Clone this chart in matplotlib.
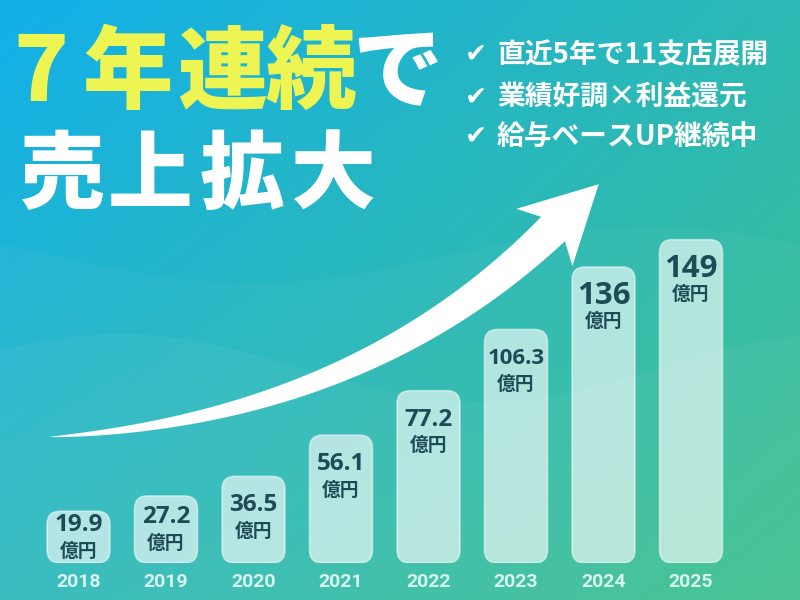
import numpy as np
import matplotlib.pyplot as plt
from matplotlib.patches import FancyBboxPatch, Polygon
from matplotlib.colors import to_rgb

# data
years = ["2018", "2019", "2020", "2021", "2022", "2023", "2024", "2025"]
sales = [19.9, 27.2, 36.5, 56.1, 77.2, 106.3, 136, 149]
sales_labels = ["19.9", "27.2", "36.5", "56.1", "77.2", "106.3", "136", "149"]
unit = "億円"
headline_1 = ["7", "年", "連", "続", "で"]
headline_2 = ["売", "上", "拡", "大"]
points = ["直近5年で11支店展開", "業績好調×利益還元", "給与ベースUP継続中"]

JP = "Noto Sans CJK JP"
W, H = 800, 600
YELLOW = "#eef552"
DARK = "#1f4b57"

fig = plt.figure(figsize=(8, 6), dpi=100)
bg = fig.add_axes([0, 0, 1, 1])
bg.axis("off")

# background gradient (blue top-left -> green bottom-right)
tl, tr, bl, br = [np.array(to_rgb(c)) for c in ("#12b0ea", "#2db9b4", "#2db9bc", "#3dc08b")]
u = np.linspace(0, 1, 400)[None, :, None]
v = np.linspace(0, 1, 300)[:, None, None]
img = (1 - u) * (1 - v) * tl + u * (1 - v) * tr + (1 - u) * v * bl + u * v * br
bg.imshow(img, extent=[0, W, H, 0], aspect="auto", zorder=0)

# soft waves
xx = np.linspace(0, W, 300)
wave_low = 368 - 34 * np.cos(2 * np.pi * (xx - 120) / 720)
wave_up = 255 + 28 * np.cos(2 * np.pi * (xx - 250) / 800)
bg.fill_between(xx, wave_low, H, color="white", alpha=0.07, lw=0, zorder=1)
bg.fill_between(xx, wave_up, wave_low, color="white", alpha=0.03, lw=0, zorder=1)

# big curved arrow
P0 = np.array([50.0, 437.0]); P1 = np.array([360.0, 418.0]); P2 = np.array([553.0, 229.0])
t = np.linspace(0, 1, 200)[:, None]
c = (1 - t) ** 2 * P0 + 2 * (1 - t) * t * P1 + t ** 2 * P2
d = 2 * (1 - t) * (P1 - P0) + 2 * t * (P2 - P1)
d = d / np.linalg.norm(d, axis=1, keepdims=True)
n = np.column_stack([d[:, 1], -d[:, 0]])
half = 17 * t[:, 0] ** 0.75
top = c + n * half[:, None]
bot = c - n * half[:, None]
de, ne = d[-1], n[-1]
tip = P2 + 64 * de
wing_a = P2 - 12 * de + 40 * ne
wing_b = P2 - 12 * de - 40 * ne
arrow = np.vstack([top, wing_a, tip, wing_b, bot[::-1]])
bg.add_patch(Polygon(arrow, closed=True, fc="white", ec="none", zorder=3))

# headline
for ch, x in zip(headline_1, [41, 127, 222, 311, 397]):
    bg.text(x, 74, ch, color="white" if ch == "で" else YELLOW, fontsize=65,
            fontweight="heavy", family=JP, ha="center", va="center", zorder=4)
for ch, x in zip(headline_2, [62, 150, 242, 333]):
    bg.text(x, 177, ch, color="white", fontsize=61, fontweight="heavy",
            family=JP, ha="center", va="center", zorder=4)

# check list
for i, p in enumerate(points):
    y = [55, 98, 137][i]
    bg.text(476, y + 1, "✔", color="white", fontsize=19, family=["DejaVu Sans"],
            ha="center", va="center", zorder=4)
    bg.text(497, y, p, color="white", fontsize=20, fontweight="bold", family=JP,
            ha="left", va="center", zorder=4)

bg.set_xlim(0, W)
bg.set_ylim(H, 0)

# bars
BASE = -4.7
ax = fig.add_axes([34.75 / W, (H - 563) / H, 700 / W, 363 / H])
ax.set_xlim(-0.5, 7.5)
ax.set_ylim(BASE, BASE + 363 / 2.104)
ax.axis("off")
ax.patch.set_alpha(0)

px_x = 87.5
px_y = 2.104
for i, (val, lab, yr) in enumerate(zip(sales, sales_labels, years)):
    bar = FancyBboxPatch((i - 0.36, BASE), 0.72, val - BASE,
                         boxstyle="round,pad=0,rounding_size=0.15",
                         mutation_aspect=px_x / px_y,
                         fc="white", alpha=0.62, ec="none", zorder=2)
    ax.add_patch(bar)
    rim = FancyBboxPatch((i - 0.36, BASE), 0.72, val - BASE,
                         boxstyle="round,pad=0,rounding_size=0.15",
                         mutation_aspect=px_x / px_y,
                         fc="none", ec="white", lw=1.2, alpha=0.5, zorder=2)
    ax.add_patch(rim)
    h = (val - BASE) * px_y
    off = min(29, h / 2 - 12)
    fs = {3: 22.5, 4: 17.5, 5: 16}[len(lab)]
    ax.annotate(lab, (i, val), xytext=(0, -off), textcoords="offset pixels",
                ha="center", va="center", fontsize=fs, fontweight="bold",
                family=["Open Sans", JP], color=DARK, zorder=3)
    ax.annotate(unit, (i, val), xytext=(0, -off - 26), textcoords="offset pixels",
                ha="center", va="center", fontsize=13.5, fontweight="bold",
                family=JP, color=DARK, zorder=3)
    ax.annotate(yr, (i, BASE), xytext=(0, -19), textcoords="offset pixels",
                ha="center", va="center", fontsize=14, fontweight="bold",
                family="Roboto", color="#d6f5ee", zorder=3, annotation_clip=False)

fig.savefig("out.png", dpi=100)
